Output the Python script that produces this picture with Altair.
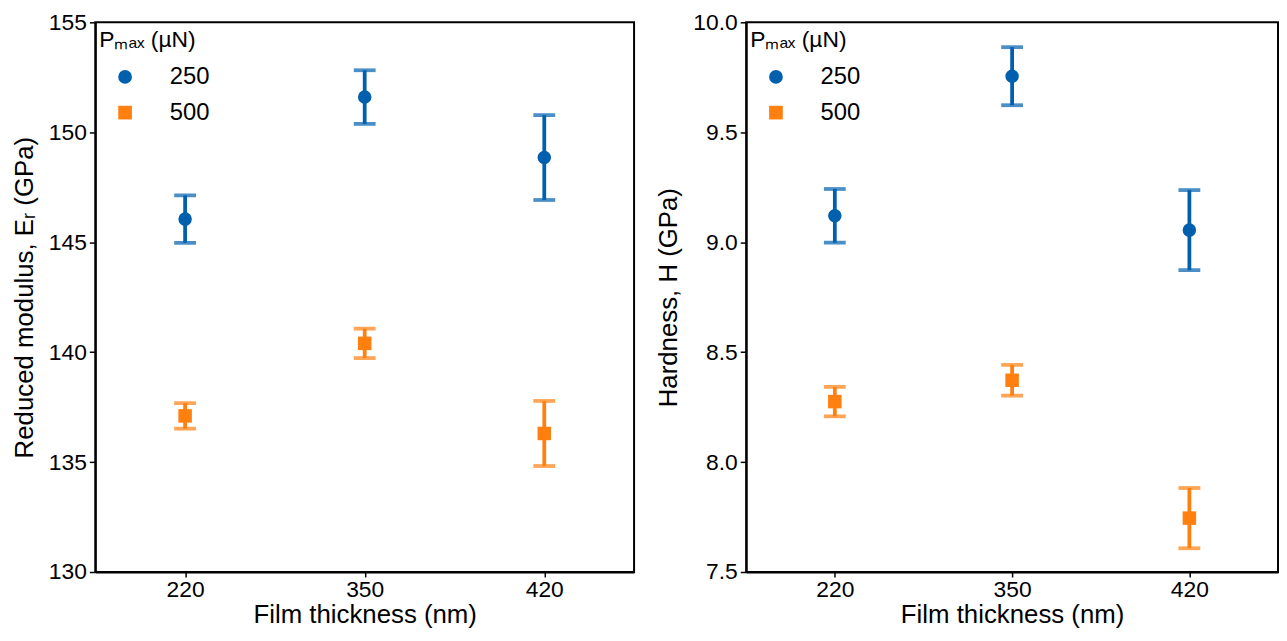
import altair as alt
import pandas as pd

thickness = ["220", "350", "420"]
loads = ["250", "500"]

modulus_250 = [146.05, 151.6, 148.85]
modulus_250_err = [1.08, 1.22, 1.93]
modulus_500 = [137.1, 140.4, 136.3]
modulus_500_err = [0.58, 0.67, 1.48]

hardness_250 = [9.12, 9.755, 9.055]
hardness_250_err = [0.122, 0.132, 0.182]
hardness_500 = [8.275, 8.372, 7.745]
hardness_500_err = [0.067, 0.07, 0.137]

modulus_ticks = [130, 135, 140, 145, 150, 155]
hardness_ticks = [7.5, 8.0, 8.5, 9.0, 9.5, 10.0]

colors = ["#0060AE", "#FF7F0F"]
shapes = ["circle", "square"]
FONT = "Liberation Sans"


def make_df(v250, e250, v500, e500):
    rows = []
    for load, vals, errs in ((loads[0], v250, e250), (loads[1], v500, e500)):
        for t, v, e in zip(thickness, vals, errs):
            rows.append({"thickness": t, "load": load, "value": v, "lo": v - e, "hi": v + e})
    return pd.DataFrame(rows)


def panel(df, ytitle, ydomain, yticks, fmt, w, h):
    base = alt.Chart(df)
    x = alt.X("thickness:N", sort=thickness,
              scale=alt.Scale(type="point", padding=0.5),
              axis=alt.Axis(title="Film thickness (nm)", labelAngle=0))
    yscale = alt.Scale(domain=ydomain, nice=False, zero=False)
    yaxis = alt.Axis(title=ytitle, values=yticks, format=fmt)
    cscale = alt.Scale(domain=loads, range=colors)
    pts = base.mark_point(filled=True, size=185, opacity=1).encode(
        x=x,
        y=alt.Y("value:Q", scale=yscale, axis=yaxis),
        color=alt.Color("load:N", scale=cscale, title="Pₘₐₓ (µN)"),
        shape=alt.Shape("load:N", scale=alt.Scale(domain=loads, range=shapes), title="Pₘₐₓ (µN)"),
    )
    rules = base.mark_rule(strokeWidth=3.8).encode(
        x=x, y=alt.Y("lo:Q", scale=yscale, axis=yaxis), y2="hi:Q",
        color=alt.Color("load:N", scale=cscale, title="Pₘₐₓ (µN)"))
    caps_lo = base.mark_tick(size=22, thickness=3.8).encode(
        x=x, y=alt.Y("lo:Q", scale=yscale, axis=yaxis),
        color=alt.Color("load:N", scale=cscale, title="Pₘₐₓ (µN)"))
    caps_hi = base.mark_tick(size=22, thickness=3.8).encode(
        x=x, y=alt.Y("hi:Q", scale=yscale, axis=yaxis),
        color=alt.Color("load:N", scale=cscale, title="Pₘₐₓ (µN)"))
    return alt.layer(pts, rules, caps_lo, caps_hi).properties(width=w, height=h)


left = panel(make_df(modulus_250, modulus_250_err, modulus_500, modulus_500_err),
             "Reduced modulus, Eᵣ (GPa)", [130, 155], modulus_ticks, "d", 543, 554)
right = panel(make_df(hardness_250, hardness_250_err, hardness_500, hardness_500_err),
              "Hardness, H (GPa)", [7.5, 10.0], hardness_ticks, ".1f", 536, 554)

chart = alt.hconcat(left, right, spacing=20).resolve_scale(
    color="independent", shape="independent"
).properties(
    padding={"left": 2, "top": 0, "right": 0, "bottom": -3}
).configure_view(
    stroke="black", strokeWidth=2
).configure_axis(
    domainColor="black", domainWidth=2, tickColor="black", tickWidth=1.5,
    labelFont=FONT, labelFontSize=23, labelColor="black",
    titleFont=FONT, titleFontSize=26, titleFontWeight="normal", titleColor="black",
    grid=False,
).configure_axisY(titlePadding=11, tickSize=6, labelPadding=3).configure_axisX(
    titlePadding=0, tickSize=5, labelPadding=2
).configure_legend(
    orient="none", legendX=4, legendY=7,
    titleFont=FONT, titleFontSize=23, titleFontWeight="normal", titleColor="black",
    labelFont=FONT, labelFontSize=24, labelColor="black",
    symbolSize=190, symbolStrokeWidth=0, rowPadding=12,
    symbolOffset=14, labelOffset=33, titlePadding=13,
)

chart.save("out.html", embed_options={"renderer": "svg", "actions": False})
